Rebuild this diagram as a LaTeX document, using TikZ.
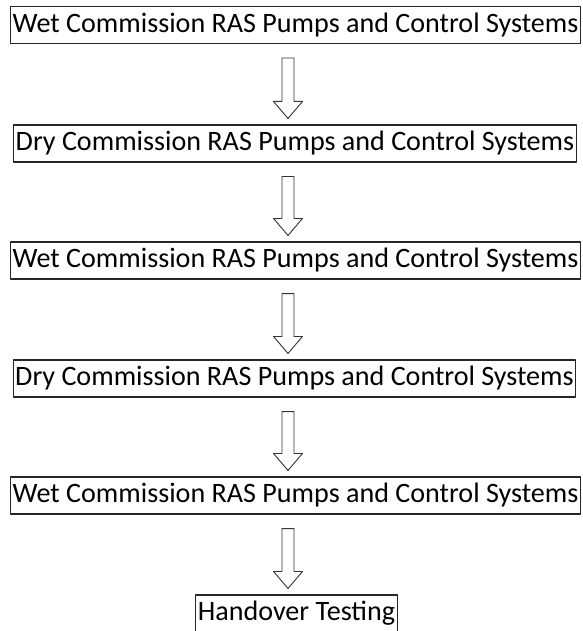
\documentclass[tikz,border=0pt]{standalone}
\usepackage{fontspec}
\setmainfont{Carlito}
\usetikzlibrary{calc}
\begin{document}
\begin{tikzpicture}[x=1pt, y=-1pt, line join=round, font=\fontsize{28.1}{32}\selectfont,
	stage/.style={draw=black!85, line width=1.1pt, minimum height=37pt, inner xsep=2pt, inner ysep=1pt},
	blockarrow/.style={draw=black!80, line width=0.9pt, fill=white}]
	\useasboundingbox (0,0) rectangle (582,631);
	\pgfmathsetmacro\sw{6} \pgfmathsetmacro\hw{14.5} \def\hh{17}
	\path (288,0) coordinate (ax);
	\foreach \j/\x/\y/\t in {b1/295.5/25/Wet Commission RAS Pumps and Control Systems,
		b2/295/143.5/Dry Commission RAS Pumps and Control Systems,
		b3/295.5/260.5/Wet Commission RAS Pumps and Control Systems,
		b4/294.5/378.5/Dry Commission RAS Pumps and Control Systems,
		b5/295.5/495.5/Wet Commission RAS Pumps and Control Systems,
		b6/296.5/613.5/Handover Testing}{
		\node[stage] (\j) at (\x,\y) {\t};
	}
	\foreach \a/\b in {b1/b2,b2/b3,b3/b4,b4/b5,b5/b6}{
		\path ($(\a.south -| ax)+(0,14)$) coordinate (T)
		($(\b.north -| ax)+(0,-6)$) coordinate (P)
		($(P)+(0,-\hh)$) coordinate (H);
		\draw[blockarrow] ($(T)+(-\sw,0)$) -- ($(H)+(-\sw,0)$) -- ($(H)+(-\hw,0)$) -- (P)
		-- ($(H)+(\hw,0)$) -- ($(H)+(\sw,0)$) -- ($(T)+(\sw,0)$) -- cycle;
	}
\end{tikzpicture}
\end{document}
